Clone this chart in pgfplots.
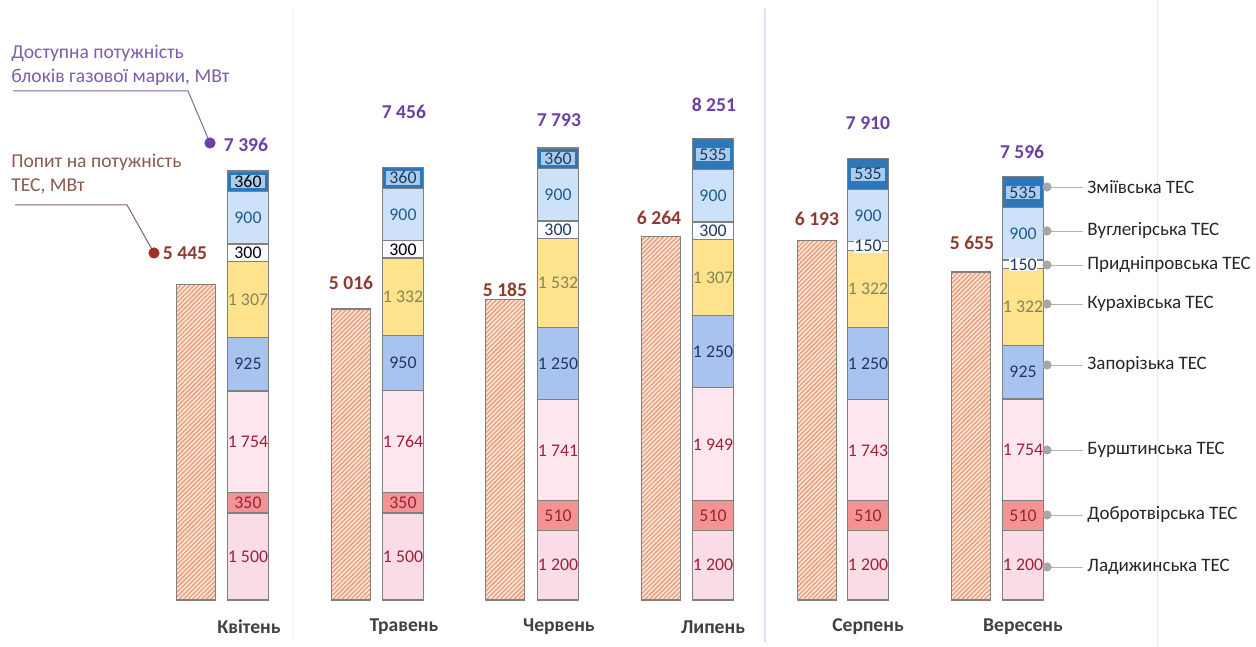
\documentclass[border=0pt]{standalone}
\usepackage{pgfplots}
\pgfplotsset{compat=1.18}
\usepackage{pgfplotstable}
\usepackage{fontspec}
\setmainfont{Carlito}
\usetikzlibrary{patterns.meta}

\definecolor{lad}{HTML}{FADCE6}
\definecolor{dob}{HTML}{F29494}
\definecolor{bur}{HTML}{FDE6EE}
\definecolor{zap}{HTML}{A8C4EE}
\definecolor{kur}{HTML}{FFE38C}
\definecolor{pri}{HTML}{FAFCFF}
\definecolor{vug}{HTML}{CDE1F8}
\definecolor{zmi}{HTML}{2E78BA}
\definecolor{zmilab}{HTML}{A9CCEC}
\definecolor{edge}{HTML}{808080}
\definecolor{hatchbg}{HTML}{FCE6D8}
\definecolor{hatchln}{HTML}{E99B78}
\definecolor{redtxt}{HTML}{A02038}
\definecolor{bluetxt}{HTML}{1F3864}
\definecolor{olivetxt}{HTML}{85855A}
\definecolor{tealtxt}{HTML}{1F5E8E}
\definecolor{demtxt}{HTML}{8E3B2E}
\definecolor{avtxt}{HTML}{6B3FA8}
\definecolor{avnote}{HTML}{7B5EA7}
\definecolor{demnote}{HTML}{8B5A4A}
\definecolor{monthtxt}{HTML}{404040}
\definecolor{dotgray}{HTML}{A6A6A6}

% stacked capacity by plant, MW (x = month index)
\pgfplotstableread{
x  lad  dob  bur  zap  kur  pri vug zmi
0  1500 350  1754 925  1307 300 900 360
1  1500 350  1764 950  1332 300 900 360
2  1200 510  1741 1250 1532 300 900 360
3  1200 510  1949 1250 1307 300 900 535
4  1200 510  1743 1250 1322 150 900 535
5  1200 510  1754 925  1322 150 900 535
}\tes

% demand on TPP capacity, MW
\pgfplotstableread{
x      dem
-0.335 5445
0.665  5016
1.658  5185
2.665  6264
3.671  6193
4.665  5655
}\demtable

\pgfplotsset{base/.style={at={(0,0)}, anchor=south west,
  width=628pt, height=323.5pt, scale only axis,
  xmin=-1.6, xmax=6.5032, ymin=-810.3, ymax=10344.8,
  hide axis, clip=false}}

\tikzset{plantlab/.style={font=\fontsize{8.9}{9}\selectfont, inner sep=0.4pt},
  val/.style={font=\fontsize{9.8}{11}\selectfont\bfseries}}
\newcommand\plantlab[4]{\node[plantlab,#4] at (axis cs:#1,#2) {#3};}

\begin{document}
\begin{tikzpicture}
% faint scan lines
\begin{scope}[x=0.5pt, y=-0.5pt, shift={(0pt,323.5pt)}]
\draw[color=blue!12, line width=0.6pt] (765,8) -- (765,642);
\draw[color=black!8, line width=0.5pt] (1157,0) -- (1157,647);
\draw[color=black!5, line width=0.5pt] (293,10) -- (293,640);
\end{scope}

\begin{axis}[base, name=main, ybar, bar width=19.5pt, bar shift=0pt]
\addplot[fill=hatchbg, draw=edge, line width=0.6pt,
  postaction={pattern={Lines[angle=45,distance=1.6pt,line width=0.65pt]}, pattern color=hatchln}]
  table[x=x,y=dem]{\demtable};
\end{axis}

\begin{axis}[base, ybar stacked, bar width=20.5pt]
\addplot[fill=lad, draw=edge, line width=0.6pt] table[x=x,y=lad]{\tes};
\addplot[fill=dob, draw=edge, line width=0.6pt] table[x=x,y=dob]{\tes};
\addplot[fill=bur, draw=edge, line width=0.6pt] table[x=x,y=bur]{\tes};
\addplot[fill=zap, draw=edge, line width=0.6pt] table[x=x,y=zap]{\tes};
\addplot[fill=kur, draw=edge, line width=0.6pt] table[x=x,y=kur]{\tes};
\addplot[fill=pri, draw=edge, line width=0.6pt] table[x=x,y=pri]{\tes};
\addplot[fill=vug, draw=edge, line width=0.6pt] table[x=x,y=vug]{\tes};
\addplot[fill=zmi, draw=edge, line width=0.6pt] table[x=x,y=zmi]{\tes};
\end{axis}

% labels in an overlaid axis, so that they lie above the bars
\begin{axis}[base]
\plantlab{0}{750}{1~500}{text=redtxt}
\plantlab{1}{750}{1~500}{text=redtxt}
\plantlab{2}{600}{1~200}{text=redtxt}
\plantlab{3}{600}{1~200}{text=redtxt}
\plantlab{4}{600}{1~200}{text=redtxt}
\plantlab{5}{600}{1~200}{text=redtxt}
\plantlab{0}{1675}{350}{text=redtxt}
\plantlab{1}{1675}{350}{text=redtxt}
\plantlab{2}{1455}{510}{text=redtxt}
\plantlab{3}{1455}{510}{text=redtxt}
\plantlab{4}{1455}{510}{text=redtxt}
\plantlab{5}{1455}{510}{text=redtxt}
\plantlab{0}{2727}{1~754}{text=redtxt}
\plantlab{1}{2732}{1~764}{text=redtxt}
\plantlab{2}{2580}{1~741}{text=redtxt}
\plantlab{3}{2684}{1~949}{text=redtxt}
\plantlab{4}{2581}{1~743}{text=redtxt}
\plantlab{5}{2587}{1~754}{text=redtxt}
\plantlab{0}{4066}{925}{text=bluetxt}
\plantlab{1}{4089}{950}{text=bluetxt}
\plantlab{2}{4076}{1~250}{text=bluetxt}
\plantlab{3}{4284}{1~250}{text=bluetxt}
\plantlab{4}{4078}{1~250}{text=bluetxt}
\plantlab{5}{3926}{925}{text=bluetxt}
\plantlab{0}{5182}{1~307}{text=olivetxt}
\plantlab{1}{5230}{1~332}{text=olivetxt}
\plantlab{2}{5467}{1~532}{text=olivetxt}
\plantlab{3}{5562}{1~307}{text=olivetxt}
\plantlab{4}{5364}{1~322}{text=olivetxt}
\plantlab{5}{5050}{1~322}{text=olivetxt}
\plantlab{0}{5986}{300}{text=black}
\plantlab{1}{6046}{300}{text=black}
\plantlab{2}{6383}{300}{text=bluetxt}
\plantlab{3}{6366}{300}{text=bluetxt}
\plantlab{4}{6100}{150}{text=bluetxt, fill=white}
\plantlab{5}{5786}{150}{text=bluetxt, fill=white}
\plantlab{0}{6586}{900}{text=tealtxt}
\plantlab{1}{6646}{900}{text=tealtxt}
\plantlab{2}{6983}{900}{text=tealtxt}
\plantlab{3}{6966}{900}{text=tealtxt}
\plantlab{4}{6625}{900}{text=tealtxt}
\plantlab{5}{6311}{900}{text=tealtxt}
\plantlab{0}{7216}{360}{text=black, fill=zmilab, minimum width=17pt}
\plantlab{1}{7276}{360}{text=bluetxt, fill=zmilab, minimum width=17pt}
\plantlab{2}{7613}{360}{text=bluetxt, fill=zmilab, minimum width=17pt}
\plantlab{3}{7683}{535}{text=bluetxt, fill=zmilab, minimum width=17pt}
\plantlab{4}{7342}{535}{text=bluetxt, fill=zmilab, minimum width=17pt}
\plantlab{5}{7028}{535}{text=bluetxt, fill=zmilab, minimum width=17pt}

% demand values
\node[val, text=demtxt] at (axis cs:-0.406,5983) {5~445};
\node[val, text=demtxt] at (axis cs:0.665,5466) {5~016};
\node[val, text=demtxt] at (axis cs:1.658,5345) {5~185};
\node[val, text=demtxt] at (axis cs:2.652,6586) {6~264};
\node[val, text=demtxt] at (axis cs:3.671,6569) {6~193};
\node[val, text=demtxt] at (axis cs:4.671,6155) {5~655};
% available capacity totals
\node[val, text=avtxt] at (axis cs:-0.013,7845) {7~396};
\node[val, text=avtxt] at (axis cs:1.006,8414) {7~456};
\node[val, text=avtxt] at (axis cs:2.006,8276) {7~793};
\node[val, text=avtxt] at (axis cs:3.006,8534) {8~251};
\node[val, text=avtxt] at (axis cs:4.0,8224) {7~910};
\node[val, text=avtxt] at (axis cs:4.994,7724) {7~596};
% months
\node[val, text=monthtxt] at (axis cs:0.006,-466) {Квітень};
\node[val, text=monthtxt] at (axis cs:1.006,-466) {Травень};
\node[val, text=monthtxt] at (axis cs:2.006,-466) {Червень};
\node[val, text=monthtxt] at (axis cs:3.0,-466) {Липень};
\node[val, text=monthtxt] at (axis cs:4.0,-466) {Серпень};
\node[val, text=monthtxt] at (axis cs:5.0,-466) {Вересень};
\end{axis}

% annotations and plant legend, in picture pixels
\begin{scope}[x=0.5pt, y=-0.5pt, shift={(0pt,323.5pt)}]
\node[anchor=west, text=avnote, font=\fontsize{9.8}{11}\selectfont, inner sep=0pt] at (11,53) {Доступна потужність};
\node[anchor=west, text=avnote, font=\fontsize{9.8}{11}\selectfont, inner sep=0pt] at (11,77) {блоків газової марки, МВт};
\draw[color=avnote!70!gray, line width=0.5pt] (13,91) -- (188,91) -- (210,143);
\fill[avtxt] (210,143) circle[radius=2.8pt];
\node[anchor=west, text=demnote, font=\fontsize{9.8}{11}\selectfont, inner sep=0pt] at (11,162) {Попит на потужність};
\node[anchor=west, text=demnote, font=\fontsize{9.8}{11}\selectfont, inner sep=0pt] at (11,186) {ТЕС, МВт};
\draw[color=demnote!70!gray, line width=0.5pt] (15,205) -- (127,205) -- (154,253);
\fill[demtxt!85!red] (154,253) circle[radius=2.8pt];
\foreach \py/\name in {187/Зміївська ТЕС, 231/Вуглегірська ТЕС, 265/Придніпровська ТЕС,
  304/Курахівська ТЕС, 365/Запорізька ТЕС, 450/Бурштинська ТЕС,
  515/Добротвірська ТЕС, 567/Ладижинська ТЕС}{
  \draw[color=black!30, line width=0.4pt] (1047,\py) -- (1083,\py);
  \fill[dotgray] (1047,\py) circle[radius=2.3pt];
  \node[anchor=west, text=black!85, font=\fontsize{9.5}{10}\selectfont, inner sep=0pt] at (1087,\py) {\name};
}
\end{scope}
\pgfresetboundingbox
\path (main.south west) rectangle (main.north east);
\end{tikzpicture}
\end{document}
